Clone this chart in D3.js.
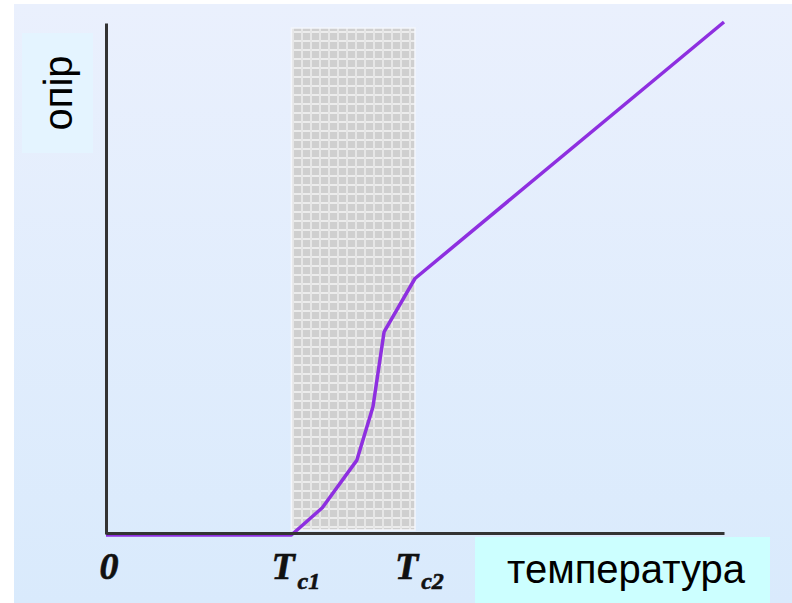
<!DOCTYPE html>
<html>
<head>
<meta charset="utf-8">
<script src="https://cdn.jsdelivr.net/npm/d3@7"></script>
<style>
  body { margin: 0; background: #fff; }
</style>
</head>
<body>
<div id="chart"></div>
<script>
// temperature (arbitrary units) vs resistance (arbitrary units)
const temperature = [0, 30, 35, 40.6, 43.2, 45, 50, 100];
const resistance  = [0, 0, 5.3, 14.6, 25, 39.6, 50, 100];
const tc1 = 30, tc2 = 50;
const tickLabels = [
  {t: 0, main: "0", sub: ""},
  {t: tc1, main: "T", sub: "c1"},
  {t: tc2, main: "T", sub: "c2"}
];
const yLabel = "опір";
const xLabel = "температура";

const width = 792, height = 603;

const svg = d3.select("#chart").append("svg")
  .attr("width", width)
  .attr("height", height);

const defs = svg.append("defs");
const grad = defs.append("linearGradient")
  .attr("id", "bg").attr("x1", 0).attr("y1", 0).attr("x2", 0).attr("y2", 1);
grad.append("stop").attr("offset", "0%").attr("stop-color", "#eaf0fd");
grad.append("stop").attr("offset", "100%").attr("stop-color", "#d9eafc");

// hatched grey band
const pat = defs.append("pattern")
  .attr("id", "band").attr("patternUnits", "userSpaceOnUse")
  .attr("width", 9).attr("height", 9);
pat.append("rect").attr("width", 9).attr("height", 9).attr("fill", "#cfcfcf");
pat.append("rect").attr("x", 0).attr("y", 4).attr("width", 9).attr("height", 2).attr("fill", "#ececec");
pat.append("rect").attr("x", 4).attr("y", 0).attr("width", 2).attr("height", 9).attr("fill", "#e6e6e6");

svg.append("rect")
  .attr("x", 14).attr("y", 4)
  .attr("width", width - 14).attr("height", height - 4)
  .attr("fill", "url(#bg)");

const x = d3.scaleLinear().domain([0, 100]).range([106, 724]);
const y = d3.scaleLinear().domain([0, 100]).range([535, 22]);

// transition region
svg.append("rect")
  .attr("x", x(tc1))
  .attr("y", 28)
  .attr("width", x(tc2) - x(tc1))
  .attr("height", 502)
  .attr("fill", "url(#band)")
  .attr("stroke", "#f4f6fb")
  .attr("stroke-width", 1.5);

// curve
const pts = temperature.map((t, i) => [t, resistance[i]]);
svg.append("path")
  .datum(pts)
  .attr("fill", "none")
  .attr("stroke", "#8e2fe0")
  .attr("stroke-width", 3.5)
  .attr("stroke-linejoin", "round")
  .attr("d", d3.line()
    .x(d => x(d[0]))
    .y(d => y(d[1]))
  );

// axes
svg.append("g")
  .attr("transform", `translate(0, ${y(0) - 2})`)
  .call(d3.axisBottom(x).tickValues([]).tickSizeOuter(0))
  .select(".domain")
  .attr("stroke", "#333").attr("stroke-width", 3);

svg.append("g")
  .attr("transform", `translate(${x(0)}, 0)`)
  .call(d3.axisLeft(d3.scaleLinear().domain([0, 1]).range([y(0) - 1, 23])).tickValues([]).tickSizeOuter(0))
  .select(".domain")
  .attr("stroke", "#333").attr("stroke-width", 3);

// tick labels
const lab = svg.append("g")
  .attr("font-family", "'Liberation Serif', 'Times New Roman', serif")
  .attr("font-weight", "bold")
  .attr("font-style", "italic")
  .attr("fill", "#111");
tickLabels.forEach(d => {
  const t = lab.append("text")
    .attr("x", d.sub ? x(d.t) - 20 : x(d.t) + 3)
    .attr("y", 579)
    .attr("text-anchor", d.sub ? "start" : "middle")
    .attr("font-size", 38)
    .attr("stroke", "#111")
    .attr("stroke-width", 0.6);
  t.append("tspan").text(d.main);
  if (d.sub) {
    t.append("tspan").attr("dx", 3).attr("dy", 10).attr("font-size", 24).text(d.sub);
  }
});

// axis titles in boxes
svg.append("rect")
  .attr("x", 22).attr("y", 33).attr("width", 71).attr("height", 120)
  .attr("fill", "#e4f4ff");
svg.append("text")
  .attr("transform", "translate(72, 93) rotate(-90)")
  .attr("text-anchor", "middle")
  .attr("font-family", "'Liberation Sans', Arial, sans-serif")
  .attr("font-size", 40)
  .attr("fill", "#000")
  .text(yLabel);

svg.append("rect")
  .attr("x", 475).attr("y", 537).attr("width", 295).attr("height", 66)
  .attr("fill", "#ccffff");
svg.append("text")
  .attr("x", 626).attr("y", 583)
  .attr("text-anchor", "middle")
  .attr("font-family", "'Liberation Sans', Arial, sans-serif")
  .attr("font-size", 40)
  .attr("fill", "#000")
  .text(xLabel);
</script>
</body>
</html>
